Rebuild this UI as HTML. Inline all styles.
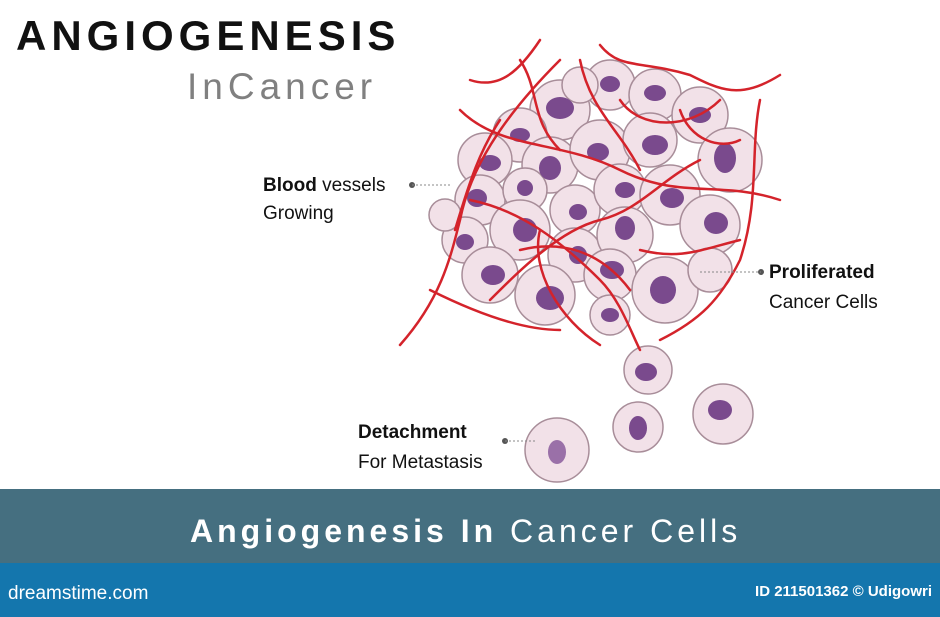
<!DOCTYPE html>
<html><head><meta charset="utf-8"><style>
body{margin:0;width:940px;height:617px;overflow:hidden;background:#fff;font-family:"Liberation Sans",sans-serif;position:relative}
.t{position:absolute;white-space:nowrap}
</style></head><body>
<div class="t" style="left:16px;top:12px;font-size:42px;font-weight:bold;letter-spacing:5px;color:#111">ANGIOGENESIS</div>
<div class="t" style="left:187px;top:66px;font-size:37px;letter-spacing:5px;color:#808080">InCancer</div>
<svg style="position:absolute;left:0;top:0" width="940" height="489">
<g stroke="#a88d99" stroke-width="1.5" fill="#f2e1e8">
<circle cx="560" cy="110" r="30"/><circle cx="610" cy="85" r="25"/><circle cx="655" cy="95" r="26"/><circle cx="700" cy="115" r="28"/>
<circle cx="520" cy="135" r="27"/><circle cx="485" cy="160" r="27"/><circle cx="550" cy="165" r="28"/><circle cx="600" cy="150" r="30"/>
<circle cx="650" cy="140" r="27"/><circle cx="730" cy="160" r="32"/><circle cx="480" cy="200" r="25"/><circle cx="525" cy="190" r="22"/>
<circle cx="575" cy="210" r="25"/><circle cx="620" cy="190" r="26"/><circle cx="670" cy="195" r="30"/><circle cx="710" cy="225" r="30"/>
<circle cx="465" cy="240" r="23"/><circle cx="520" cy="230" r="30"/><circle cx="575" cy="255" r="27"/><circle cx="625" cy="235" r="28"/>
<circle cx="490" cy="275" r="28"/><circle cx="545" cy="295" r="30"/><circle cx="610" cy="275" r="26"/><circle cx="665" cy="290" r="33"/>
<circle cx="610" cy="315" r="20"/><circle cx="710" cy="270" r="22"/><circle cx="580" cy="85" r="18"/><circle cx="445" cy="215" r="16"/>
<circle cx="648" cy="370" r="24"/><circle cx="638" cy="427" r="25"/><circle cx="723" cy="414" r="30"/><circle cx="557" cy="450" r="32"/>
</g>
<g fill="#7a4a8d">
<ellipse cx="560" cy="108" rx="14" ry="11"/><ellipse cx="610" cy="84" rx="10" ry="8"/><ellipse cx="655" cy="93" rx="11" ry="8"/><ellipse cx="700" cy="115" rx="11" ry="8"/>
<ellipse cx="520" cy="135" rx="10" ry="7"/><ellipse cx="490" cy="163" rx="11" ry="8"/><ellipse cx="550" cy="168" rx="11" ry="12"/><ellipse cx="598" cy="152" rx="11" ry="9"/>
<ellipse cx="655" cy="145" rx="13" ry="10"/><ellipse cx="725" cy="158" rx="11" ry="15"/><ellipse cx="477" cy="198" rx="10" ry="9"/><ellipse cx="525" cy="188" rx="8" ry="8"/>
<ellipse cx="578" cy="212" rx="9" ry="8"/><ellipse cx="625" cy="190" rx="10" ry="8"/><ellipse cx="672" cy="198" rx="12" ry="10"/><ellipse cx="716" cy="223" rx="12" ry="11"/>
<ellipse cx="465" cy="242" rx="9" ry="8"/><ellipse cx="525" cy="230" rx="12" ry="12"/><ellipse cx="578" cy="255" rx="9" ry="9"/><ellipse cx="625" cy="228" rx="10" ry="12"/>
<ellipse cx="493" cy="275" rx="12" ry="10"/><ellipse cx="550" cy="298" rx="14" ry="12"/><ellipse cx="612" cy="270" rx="12" ry="9"/><ellipse cx="663" cy="290" rx="13" ry="14"/>
<ellipse cx="610" cy="315" rx="9" ry="7"/><ellipse cx="646" cy="372" rx="11" ry="9"/><ellipse cx="638" cy="428" rx="9" ry="12"/><ellipse cx="720" cy="410" rx="12" ry="10"/><ellipse cx="557" cy="452" rx="9" ry="12" fill="#9a70a8"/>
</g>
<g stroke="#d4232b" stroke-width="2.5" fill="none" stroke-linecap="round">
<path d="M400 345 C440 300 450 260 460 220 C470 170 500 120 560 60"/>
<path d="M470 80 C500 90 520 70 540 40"/><path d="M520 60 C540 90 530 120 560 150"/>
<path d="M600 45 C620 70 640 60 690 75 C720 90 740 100 780 75"/>
<path d="M760 100 C750 150 760 200 740 260 C720 300 700 320 660 340"/>
<path d="M460 110 C500 150 560 140 620 170 C680 200 720 180 780 200"/>
<path d="M470 200 C520 210 560 240 600 280 C620 300 630 330 640 350"/>
<path d="M540 230 C530 270 560 320 600 345"/><path d="M700 160 C660 180 640 210 600 220 C560 230 520 270 490 300"/>
<path d="M580 60 C590 110 620 130 640 170"/><path d="M430 290 C470 310 520 330 560 330"/>
<path d="M680 110 C690 140 720 150 740 140"/><path d="M640 250 C680 260 700 250 740 240"/>
<path d="M500 120 C480 150 470 180 455 230"/><path d="M620 100 C640 130 690 130 720 100"/><path d="M520 250 C560 240 600 250 630 290"/>
</g>
<g fill="#555"><circle cx="412" cy="185" r="3"/><circle cx="761" cy="272" r="3"/><circle cx="505" cy="441" r="3"/></g>
<g stroke="#888" stroke-dasharray="2 2"><line x1="412" y1="185" x2="450" y2="185"/><line x1="700" y1="272" x2="761" y2="272"/><line x1="505" y1="441" x2="535" y2="441"/></g>
</svg>
<div class="t" style="left:263px;top:172px;font-size:19px;line-height:28px;color:#111"><b>Blood</b> vessels<br>Growing</div>
<div class="t" style="left:769px;top:258px;font-size:19px;line-height:30px;color:#111"><b>Proliferated</b><br>Cancer Cells</div>
<div class="t" style="left:358px;top:418px;font-size:19px;line-height:30px;color:#111"><b>Detachment</b><br>For Metastasis</div>
<div style="position:absolute;left:0;top:489px;width:940px;height:74px;background:#456f80"></div>
<div class="t" style="left:190px;top:513px;font-size:32px;letter-spacing:4px;color:#fff"><b>Angiogenesis In</b> Cancer Cells</div>
<div style="position:absolute;left:0;top:563px;width:940px;height:54px;background:#1476ad"></div>
<div class="t" style="left:8px;top:583px;font-size:19px;color:#fff">dreamstime.com</div>
<div class="t" style="right:8px;top:583px;font-size:15px;font-weight:bold;color:#fff">ID 211501362 © Udigowri</div>
</body></html>
